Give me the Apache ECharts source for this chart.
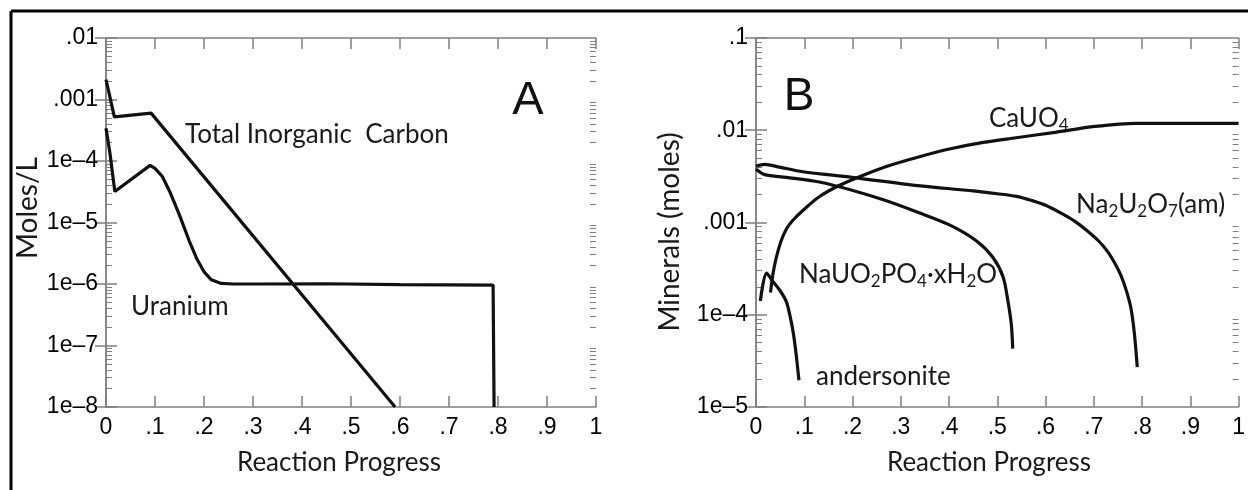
<!DOCTYPE html>
<html><head><meta charset="utf-8">
<script src="https://cdn.jsdelivr.net/npm/echarts@6/dist/echarts.min.js"></script>
<style>html,body{margin:0;padding:0;background:#fff}#c{width:1248px;height:490px}</style>
</head><body><div id="c"></div>
<script>
const xTickValues = [0, 0.1, 0.2, 0.3, 0.4, 0.5, 0.6, 0.7, 0.8, 0.9, 1];
const xTickLabels = ['0', '.1', '.2', '.3', '.4', '.5', '.6', '.7', '.8', '.9', '1'];
const yTicksA = [1e-8, 1e-7, 1e-6, 1e-5, 1e-4, 1e-3, 1e-2];
const yLabelsA = ['1e\u20138', '1e\u20137', '1e\u20136', '1e\u20135', '1e\u20134', '.001', '.01'];
const yTicksB = [1e-5, 1e-4, 1e-3, 1e-2, 1e-1];
const yLabelsB = ['1e\u20135', '1e\u20134', '.001', '.01', '.1'];

const ticX = [0, 0.008, 0.017, 0.092, 0.59];
const ticY = [2.1e-3, 1.1e-3, 5.2e-4, 6.0e-4, 1e-8];
const uraniumX = [0, 0.008, 0.018, 0.09, 0.1, 0.115, 0.13, 0.15, 0.17, 0.185, 0.2, 0.215, 0.235, 0.26, 0.3, 0.45, 0.6, 0.7, 0.79, 0.792];
const uraniumY = [3.4e-4, 1.35e-4, 3.2e-5, 8.5e-5, 7.6e-5, 5.6e-5, 3.2e-5, 1.32e-5, 5.0e-6, 2.6e-6, 1.58e-6, 1.17e-6, 1.02e-6, 1.0e-6, 1.0e-6, 1.01e-6, 0.98e-6, 0.97e-6, 0.96e-6, 1e-8];

const cauo4X = [0.03, 0.035, 0.042, 0.052, 0.063, 0.076, 0.097, 0.131, 0.171, 0.212, 0.267, 0.335, 0.403, 0.471, 0.539, 0.62, 0.702, 0.788, 1.0];
const cauo4Y = [1.74e-4, 2.75e-4, 4.17e-4, 6.3e-4, 8.5e-4, 1.05e-3, 1.35e-3, 1.9e-3, 2.5e-3, 3.1e-3, 4.0e-3, 5.1e-3, 6.3e-3, 7.4e-3, 8.3e-3, 9.5e-3, 1.1e-2, 1.19e-2, 1.19e-2];
const na2u2o7X = [0, 0.018, 0.049, 0.097, 0.199, 0.335, 0.45, 0.5, 0.54, 0.57, 0.6, 0.634, 0.661, 0.688, 0.71, 0.729, 0.745, 0.757, 0.768, 0.777, 0.784, 0.79];
const na2u2o7Y = [4.07e-3, 4.27e-3, 3.98e-3, 3.55e-3, 3.09e-3, 2.51e-3, 2.2e-3, 2.05e-3, 1.92e-3, 1.74e-3, 1.54e-3, 1.25e-3, 1.03e-3, 8.0e-4, 6.3e-4, 4.8e-4, 3.5e-4, 2.6e-4, 1.78e-4, 1.17e-4, 6.3e-5, 2.7e-5];
const naup04X = [0, 0.018, 0.063, 0.131, 0.199, 0.267, 0.335, 0.403, 0.457, 0.491, 0.512, 0.522, 0.529, 0.532];
const naup04Y = [3.8e-3, 3.3e-3, 3.09e-3, 2.75e-3, 2.24e-3, 1.74e-3, 1.29e-3, 9.3e-4, 6.3e-4, 4.17e-4, 2.57e-4, 1.41e-4, 7.9e-5, 4.3e-5];
const andersoniteX = [0.009, 0.022, 0.035, 0.05, 0.063, 0.072, 0.078, 0.083, 0.089];
const andersoniteY = [1.41e-4, 2.82e-4, 2.29e-4, 1.82e-4, 1.38e-4, 8.9e-5, 6.0e-5, 3.8e-5, 1.95e-5];

function pairs(xs, ys) { return xs.map((x, i) => [x, ys[i]]); }
function minorTicks(lo, hi) {
  const out = [];
  for (let e = lo; e < hi; e++) for (let k = 2; k <= 9; k++) out.push(k * Math.pow(10, e));
  return out;
}
function yLabelFmt(ticks, labels) {
  return function (v) {
    const lv = Math.log10(v);
    for (let i = 0; i < ticks.length; i++) if (Math.abs(Math.log10(ticks[i]) - lv) < 1e-6) return labels[i];
    return '';
  };
}
function xLabelFmt(v) {
  for (let i = 0; i < xTickValues.length; i++) if (Math.abs(xTickValues[i] - v) < 1e-6) return xTickLabels[i];
  return '';
}

const AX = '#808080';
const SANS = 'Liberation Sans';
const titleFont = 'Lato';

function xAxes(grid) {
  return [
    { type: 'value', gridIndex: grid, position: 'bottom', min: 0, max: 1, interval: 0.1,
      axisLine: { lineStyle: { color: AX, width: 1.5 } },
      axisTick: { inside: true, length: 11, lineStyle: { color: AX, width: 1.5 } },
      axisLabel: { margin: 9, formatter: xLabelFmt, showMinLabel: true, showMaxLabel: true,
        fontFamily: SANS, fontSize: 23, color: '#000' },
      splitLine: { show: false } },
    { type: 'value', gridIndex: grid, position: 'top', min: 0, max: 1, interval: 0.1,
      axisLine: { lineStyle: { color: AX, width: 1.5 } },
      axisTick: { inside: true, length: 11, lineStyle: { color: AX, width: 1.5 } },
      axisLabel: { show: false }, splitLine: { show: false } }
  ];
}
function yAxes(grid, lo, hi, ticks, labels) {
  const base = { type: 'log', logBase: 10, gridIndex: grid, min: Math.pow(10, lo), max: Math.pow(10, hi), splitLine: { show: false } };
  const minors = minorTicks(lo, hi);
  return [
    Object.assign({}, base, { position: 'left',
      axisLine: { show: true, lineStyle: { color: AX, width: 1.5 } },
      axisTick: { inside: true, length: 11, customValues: ticks, lineStyle: { color: AX, width: 1.5 } },
      axisLabel: { margin: 8, customValues: ticks, formatter: yLabelFmt(ticks, labels), showMinLabel: true, showMaxLabel: true,
        fontFamily: SANS, fontSize: 23, color: '#000' } }),
    Object.assign({}, base, { position: 'right',
      axisLine: { show: true, lineStyle: { color: AX, width: 1.5 } },
      axisTick: { inside: true, length: 11, customValues: ticks, lineStyle: { color: AX, width: 1.5 } },
      axisLabel: { show: false } }),
    Object.assign({}, base, { position: 'left', offset: 0,
      axisLine: { show: false },
      axisTick: { inside: true, length: 6, customValues: minors, lineStyle: { color: AX, width: 1 } },
      axisLabel: { show: false } }),
    Object.assign({}, base, { position: 'right', offset: 0,
      axisLine: { show: false },
      axisTick: { inside: true, length: 6, customValues: minors, lineStyle: { color: AX, width: 1 } },
      axisLabel: { show: false } })
  ];
}

const lineStyle = { color: '#111', width: 3.2 };
function ser(name, xi, yi, xs, ys, smooth) {
  return { name, type: 'line', xAxisIndex: xi, yAxisIndex: yi, data: pairs(xs, ys), showSymbol: false, symbol: 'none',
    smooth: smooth || false, lineStyle, silent: true, animation: false, clip: true };
}

const rich = {
  n: { fontFamily: titleFont, fontSize: 26, color: '#1a1a1a', lineHeight: 30 },
  s: { fontFamily: titleFont, fontSize: 17, color: '#1a1a1a', lineHeight: 18, verticalAlign: 'bottom' }
};
function txt(x, y, text) {
  return { type: 'text', x, y, silent: true,
    style: { text, fontFamily: titleFont, fontSize: 26, fill: '#1a1a1a', align: 'left', verticalAlign: 'middle' } };
}
function richTxt(x, y, text) {
  return { type: 'text', x, y, silent: true,
    style: { text, rich, align: 'left', verticalAlign: 'middle', fontFamily: titleFont, fontSize: 26, fill: '#1a1a1a' } };
}

const option = {
  animation: false,
  backgroundColor: '#fff',
  grid: [
    { left: 106, top: 38, width: 490, height: 369 },
    { left: 756, top: 38, width: 490, height: 369 }
  ],
  xAxis: [].concat(xAxes(0), xAxes(1)),
  yAxis: [].concat(yAxes(0, -8, -2, yTicksA, yLabelsA), yAxes(1, -5, -1, yTicksB, yLabelsB)),
  series: [
    ser('Total Inorganic Carbon', 0, 0, ticX, ticY),
    ser('Uranium', 0, 0, uraniumX, uraniumY),
    ser('CaUO4', 2, 4, cauo4X, cauo4Y, 0.3),
    ser('Na2U2O7(am)', 2, 4, na2u2o7X, na2u2o7Y, 0.3),
    ser('NaUO2PO4·xH2O', 2, 4, naup04X, naup04Y, 0.3),
    ser('andersonite', 2, 4, andersoniteX, andersoniteY, 0.3)
  ],
  graphic: [
    { type: 'line', silent: true, shape: { x1: 11, y1: 11, x2: 1248, y2: 11 }, style: { stroke: '#000', lineWidth: 3 } },
    { type: 'line', silent: true, shape: { x1: 11, y1: 11, x2: 11, y2: 490 }, style: { stroke: '#000', lineWidth: 3 } },
    { type: 'text', x: 28, y: 208, rotation: Math.PI / 2, silent: true,
      style: { text: 'Moles/L', fontFamily: titleFont, fontSize: 28, fill: '#1a1a1a', align: 'center', verticalAlign: 'middle' } },
    { type: 'text', x: 670, y: 232, rotation: Math.PI / 2, silent: true,
      style: { text: 'Minerals (moles)', fontFamily: titleFont, fontSize: 28, fill: '#1a1a1a', align: 'center', verticalAlign: 'middle' } },
    { type: 'text', x: 339, y: 463, silent: true,
      style: { text: 'Reaction Progress', fontFamily: titleFont, fontSize: 26, fill: '#1a1a1a', align: 'center', verticalAlign: 'middle' } },
    { type: 'text', x: 989, y: 463, silent: true,
      style: { text: 'Reaction Progress', fontFamily: titleFont, fontSize: 26, fill: '#1a1a1a', align: 'center', verticalAlign: 'middle' } },
    { type: 'text', x: 528, y: 101, silent: true,
      style: { text: 'A', fontFamily: SANS, fontSize: 47, fill: '#111', align: 'center', verticalAlign: 'middle' } },
    { type: 'text', x: 799, y: 97, silent: true,
      style: { text: 'B', fontFamily: SANS, fontSize: 46, fill: '#111', align: 'center', verticalAlign: 'middle' } },
    txt(185, 135, 'Total Inorganic  Carbon'),
    txt(131, 307, 'Uranium'),
    richTxt(989, 119, '{n|CaUO}{s|4}'),
    richTxt(1076, 205, '{n|Na}{s|2}{n|U}{s|2}{n|O}{s|7}{n|(am)}'),
    richTxt(799, 275, '{n|NaUO}{s|2}{n|PO}{s|4}{n|\u00B7xH}{s|2}{n|O}'),
    txt(816, 377, 'andersonite')
  ]
};

const chart = echarts.init(document.getElementById('c'), null, { renderer: 'canvas' });
chart.setOption(option);
</script>
</body></html>
